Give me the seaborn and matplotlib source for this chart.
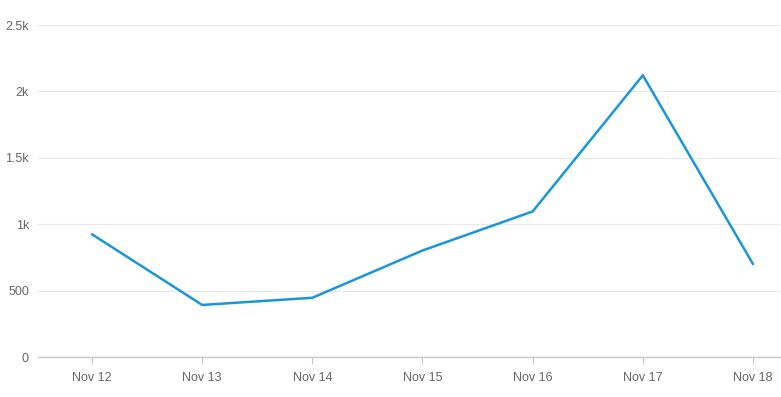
import matplotlib
matplotlib.use("Agg")
import matplotlib.pyplot as plt
import seaborn as sns
import pandas as pd

dates = ["Nov 12", "Nov 13", "Nov 14", "Nov 15", "Nov 16", "Nov 17", "Nov 18"]
values = [924, 392, 446, 802, 1096, 2121, 700]
y_ticks = [0, 500, 1000, 1500, 2000, 2500]
y_labels = ["0", "500", "1k", "1.5k", "2k", "2.5k"]

sns.set_theme(style="white")
plt.rcParams['font.family'] = ['Liberation Sans', 'DejaVu Sans']

df = pd.DataFrame({"date": dates, "value": values})
df["x"] = range(len(dates))

fig = plt.figure(figsize=(7.81, 3.97), dpi=100)
ax = fig.add_axes([38/781, 40/397, 742/781, 332/397])

sns.lineplot(data=df, x="x", y="value", ax=ax, color="#1a96dc", linewidth=1.8)

ax.set_xlim(-0.49, 6.245)
ax.set_ylim(0, 2500)
ax.set_xticks(df["x"])
ax.set_xticklabels(dates)
ax.set_yticks(y_ticks)
ax.set_yticklabels(y_labels)
ax.set_xlabel("")
ax.set_ylabel("")

for s in ["top", "right", "left"]:
    ax.spines[s].set_visible(False)
ax.spines["bottom"].set_color("#c8c8c8")
ax.spines["bottom"].set_linewidth(1)

ax.grid(axis="y", color="#e8e8e8", linewidth=0.8)
ax.grid(axis="x", visible=False)
ax.set_axisbelow(True)

ax.tick_params(axis="x", bottom=True, length=5, width=0.8, color="#c8c8c8",
               labelsize=9, labelcolor="#666666", pad=6)
ax.tick_params(axis="y", left=False, length=0, labelsize=9, labelcolor="#666666", pad=6.5)

fig.savefig("out.png", dpi=100)
